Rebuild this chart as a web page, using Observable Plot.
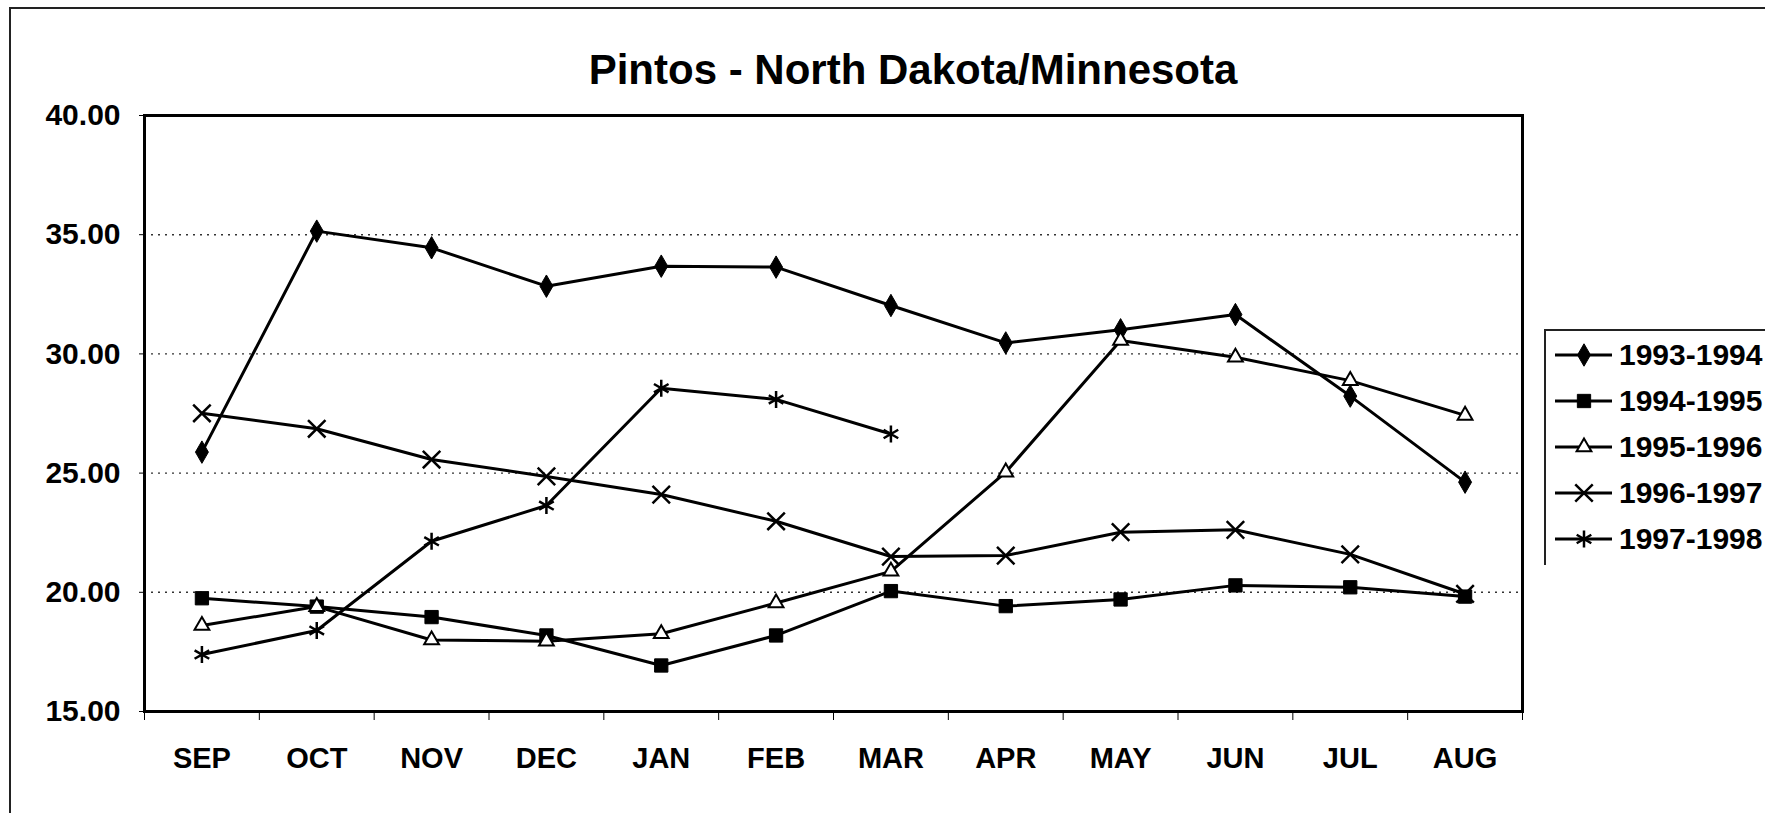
<!DOCTYPE html>
<html><head><meta charset="utf-8">
<script src="https://cdn.jsdelivr.net/npm/d3@7"></script>
<script src="https://cdn.jsdelivr.net/npm/@observablehq/plot@0.6"></script>
<style>
html,body{margin:0;padding:0;background:#fff;overflow:hidden;}
#wrap{position:relative;width:1765px;height:813px;font-family:"Liberation Sans",Arial,sans-serif;overflow:hidden;}
#frame{position:absolute;left:9px;top:7px;width:1800px;height:900px;border-left:2px solid #222;border-top:2px solid #222;}
#chart{position:absolute;left:0;top:0;}
#title{position:absolute;left:913px;top:49px;transform:translateX(-50%);font-size:42px;line-height:42px;font-weight:bold;white-space:nowrap;color:#000;}
#legend{position:absolute;left:1544px;top:329px;width:300px;height:234px;border-left:2px solid #222;border-top:2px solid #222;}
.row{position:absolute;left:0;height:46px;width:300px;}
.row svg{position:absolute;left:9px;top:0;}
.row span{position:absolute;left:73px;top:0;font-size:30px;line-height:46px;font-weight:bold;white-space:nowrap;}
</style>
</head><body>
<div id="wrap">
  <div id="frame"></div>
  <div id="chart"></div>
  <div id="title"></div>
  <div id="legend"></div>
</div>
<script>
const titleText = "Pintos - North Dakota/Minnesota";
const months = ["SEP","OCT","NOV","DEC","JAN","FEB","MAR","APR","MAY","JUN","JUL","AUG"];
const seasons = ["1993-1994","1994-1995","1995-1996","1996-1997","1997-1998"];
const s1993_1994 = [25.88,35.15,34.45,32.84,33.68,33.64,32.03,30.46,31.01,31.65,28.23,24.62];
const s1994_1995 = [19.75,19.40,18.96,18.19,16.93,18.19,20.05,19.42,19.70,20.29,20.21,19.82];
const s1995_1996 = [18.61,19.40,18.00,17.95,18.26,19.55,20.88,25.04,30.56,29.86,28.88,27.42];
const s1996_1997 = [27.51,26.86,25.57,24.86,24.10,22.98,21.50,21.54,22.52,22.62,21.59,19.93];
const s1997_1998 = [17.39,18.40,22.14,23.64,28.56,28.09,26.64,null,null,null,null,null];
const yTicks = [15,20,25,30,35,40];
const gridValues = [20,25,30,35];

const seriesValues = [s1993_1994, s1994_1995, s1995_1996, s1996_1997, s1997_1998];
const rows = [];
seasons.forEach((s, k) => seriesValues[k].forEach((v, i) => { if (v != null) rows.push({series: s, i, v}); }));

const styles = [
  {symbol: "diamond", fill: "black", stroke: "black", r: 6.8, strokeWidth: 1, d3sym: d3.symbolDiamond},
  {symbol: "square", fill: "black", stroke: "black", r: 7.5, strokeWidth: 1, d3sym: d3.symbolSquare},
  {symbol: "triangle", fill: "white", stroke: "black", r: 5.5, strokeWidth: 2, d3sym: d3.symbolTriangle},
  {symbol: "times", fill: "none", stroke: "black", r: 8, strokeWidth: 2.5, d3sym: d3.symbolTimes},
  {symbol: "asterisk", fill: "none", stroke: "black", r: 8, strokeWidth: 2.5, d3sym: d3.symbolAsterisk}
];

const dotMarks = seasons.map((s, k) => Plot.dot(rows.filter(d => d.series === s), {
  x: "i", y: "v", symbol: () => styles[k].symbol, r: styles[k].r,
  fill: styles[k].fill, stroke: styles[k].stroke, strokeWidth: styles[k].strokeWidth
}));

const chart = Plot.plot({
  width: 1765, height: 813,
  marginLeft: 144, marginRight: 243, marginTop: 115, marginBottom: 102,
  x: {type: "linear", domain: [-0.5, months.length - 0.5]},
  y: {domain: [yTicks[0], yTicks[yTicks.length - 1]]},
  symbol: {type: "identity"},
  style: {fontFamily: "'Liberation Sans', Arial, sans-serif", background: "transparent", color: "#000", overflow: "visible"},
  marks: [
    Plot.ruleY(gridValues, {stroke: "#333", strokeWidth: 1.4, strokeDasharray: "2,5"}),
    Plot.axisY({ticks: yTicks, tickFormat: d => d.toFixed(2), tickSize: 5, tickPadding: 19, fontSize: 30, fontWeight: "bold", label: null}),
    Plot.axisX({ticks: d3.range(months.length + 1).map(i => i - 0.5), tickFormat: () => "", tickSize: 9, label: null}),
    Plot.axisX({ticks: d3.range(months.length), tickFormat: i => months[i], tickSize: 0, tickPadding: 36, fontSize: 29, fontWeight: "bold", label: null}),
    Plot.line(rows, {x: "i", y: "v", z: "series", stroke: "black", strokeWidth: 3}),
    ...dotMarks,
    Plot.frame({stroke: "#000", strokeWidth: 3})
  ]
});
document.getElementById("chart").appendChild(chart);
document.getElementById("title").textContent = titleText;

const legend = document.getElementById("legend");
seasons.forEach((s, k) => {
  const row = document.createElement("div");
  row.className = "row";
  row.style.top = (1 + k * 46) + "px";
  const st = styles[k];
  const svg = d3.create("svg").attr("width", 60).attr("height", 46);
  svg.append("line").attr("x1", 0).attr("x2", 57).attr("y1", 23).attr("y2", 23).attr("stroke", "black").attr("stroke-width", 3);
  svg.append("path").attr("transform", "translate(29,23)")
    .attr("d", d3.symbol().type(st.d3sym).size(Math.PI * st.r * st.r)())
    .attr("fill", st.fill).attr("stroke", st.stroke).attr("stroke-width", st.strokeWidth);
  row.appendChild(svg.node());
  const span = document.createElement("span");
  span.textContent = s;
  row.appendChild(span);
  legend.appendChild(row);
});
</script>
</body></html>
